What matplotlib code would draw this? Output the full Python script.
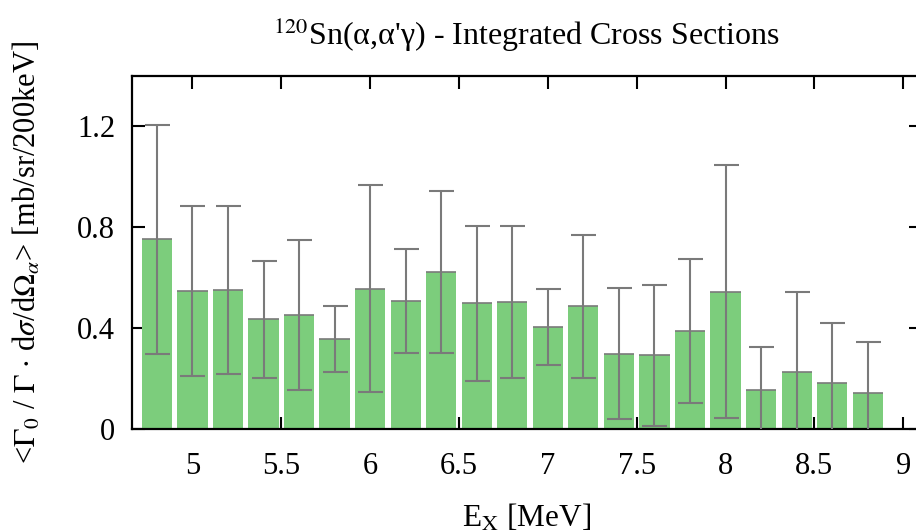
import matplotlib
matplotlib.use("Agg")
import matplotlib.pyplot as plt
import numpy as np

# Data
energies = [4.8, 5.0, 5.2, 5.4, 5.6, 5.8, 6.0, 6.2, 6.4, 6.6, 6.8,
            7.0, 7.2, 7.4, 7.6, 7.8, 8.0, 8.2, 8.4, 8.6, 8.8]
cross_sections = [0.751, 0.546, 0.551, 0.434, 0.451, 0.355, 0.555, 0.506,
                  0.620, 0.497, 0.502, 0.404, 0.485, 0.298, 0.291, 0.386,
                  0.543, 0.155, 0.223, 0.181, 0.141]
errors = [0.454, 0.336, 0.334, 0.231, 0.299, 0.130, 0.410, 0.207,
          0.321, 0.308, 0.300, 0.150, 0.282, 0.260, 0.279, 0.286,
          0.502, 0.169, 0.321, 0.240, 0.201]
x_ticks = [5, 5.5, 6, 6.5, 7, 7.5, 8, 8.5, 9]
x_tick_labels = ["5", "5.5", "6", "6.5", "7", "7.5", "8", "8.5", "9"]
y_ticks = [0, 0.4, 0.8, 1.2]
y_tick_labels = ["0", "0.4", "0.8", "1.2"]

plt.rcParams['font.family'] = ['Liberation Serif', 'DejaVu Serif']
plt.rcParams['mathtext.fontset'] = 'stix'

fig = plt.figure(figsize=(9.16, 5.32), dpi=100)
ax = fig.add_axes([132/916, 1-428.7/532, (921-132)/916, (428.7-75.7)/532])

bar_color = '#7CCD7C'
err_color = '#7a7a7a'
width = 0.17

ax.bar(energies, cross_sections, width=width, color=bar_color, edgecolor='none', zorder=2)
ax.hlines(cross_sections, np.array(energies) - width/2, np.array(energies) + width/2,
          colors=err_color, linewidth=1.2, zorder=3)
ax.errorbar(energies, cross_sections, yerr=errors, fmt='none', ecolor=err_color,
            elinewidth=1.5, capsize=9, capthick=1.5, zorder=4)

ax.set_xlim(4.66, 9.1)
ax.set_ylim(0, 1.4)
ax.set_xticks(x_ticks)
ax.set_xticklabels(x_tick_labels)
ax.set_yticks(y_ticks)
ax.set_yticklabels(y_tick_labels)
ax.tick_params(axis='both', direction='in', length=9, width=1.5, labelsize=22,
               top=True, right=True)
ax.tick_params(axis='y', pad=12)
ax.tick_params(axis='x', pad=17)
for s in ax.spines.values():
    s.set_linewidth(1.6)

ax.set_title(r"$^{120}$Sn(α,α'γ) - Integrated Cross Sections", fontsize=23, pad=22)
ax.set_xlabel(r"E$_\mathrm{X}$ [MeV]", fontsize=22.5, labelpad=15)
ax.set_ylabel(r"<$\Gamma_0$ / $\Gamma$ $\cdot$ d$\sigma$/d$\Omega_\alpha$> [mb/sr/200keV]",
              fontsize=22, labelpad=25)

fig.savefig("out.png", dpi=100)
